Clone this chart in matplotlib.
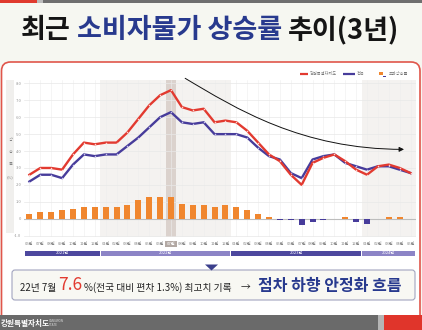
import matplotlib
matplotlib.use('Agg')
import matplotlib.pyplot as plt
import matplotlib.transforms as mtransforms
from matplotlib.patches import Rectangle, FancyBboxPatch, Polygon, FancyArrowPatch
from matplotlib.path import Path
from matplotlib.offsetbox import TextArea, HPacker, AnnotationBbox

plt.rcParams['font.family'] = ['Noto Sans CJK KR', 'DejaVu Sans']

# 데이터
months = ['06월', '07월', '08월', '09월', '10월', '11월', '12월',
          '01월', '02월', '03월', '04월', '05월', '06월', '07월', '08월', '09월', '10월', '11월', '12월',
          '01월', '02월', '03월', '04월', '05월', '06월', '07월', '08월', '09월', '10월', '11월', '12월',
          '01월', '02월', '03월', '04월', '05월']
years = ['2021년', '2022년', '2023년', '2024년']
year_first = [0, 7, 19, 31]
year_last = [6, 18, 30, 35]
gangwon = [2.6, 3.0, 3.0, 2.9, 3.8, 4.5, 4.4, 4.5, 4.5, 5.1, 5.9, 6.7, 7.3, 7.6, 6.6, 6.4, 6.5, 5.7,
           5.8, 5.7, 5.2, 4.5, 3.8, 3.4, 2.6, 2.0, 3.3, 3.6, 3.8, 3.4, 2.9, 2.6, 3.1, 3.2, 3.0, 2.7]
national = [2.2, 2.6, 2.6, 2.4, 3.2, 3.8, 3.7, 3.8, 3.8, 4.3, 4.8, 5.4, 6.0, 6.3, 5.7, 5.6, 5.7, 5.0,
            5.0, 5.0, 4.8, 4.2, 3.7, 3.5, 2.7, 2.4, 3.5, 3.7, 3.8, 3.3, 3.1, 2.9, 3.1, 3.1, 2.9, 2.7]
excess = [0.3, 0.4, 0.4, 0.5, 0.6, 0.7, 0.7, 0.7, 0.7, 0.8, 1.1, 1.3, 1.3, 1.3, 0.9, 0.8, 0.8, 0.7,
          0.8, 0.7, 0.5, 0.3, 0.1, -0.1, -0.1, -0.4, -0.2, -0.1, 0.0, 0.1, -0.2, -0.3, 0.0, 0.1, 0.1, 0.0]
y_ticks = [-1, 0, 1, 2, 3, 4, 5, 6, 7, 8]
y_tick_labels = ['-1.0', '0', '1.0', '2.0', '3.0', '4.0', '5.0', '6.0', '7.0', '8.0']
peak_idx = 13

RED = '#e23a30'
NAVY = '#473c9b'
ORANGE = '#f0862e'
TITLE_BLUE = '#283a8e'

W, H = 422, 330
fig = plt.figure(figsize=(W / 100, H / 100), dpi=100, facecolor='#f6f7f1')

# 배경 장식용 축 (픽셀 좌표)
bg = fig.add_axes([0, 0, 1, 1], zorder=0)
bg.set_xlim(0, W)
bg.set_ylim(H, 0)
bg.axis('off')

bg.add_patch(Rectangle((0, 0), 37, 3, fc='#e03a2e', ec='none'))
bg.add_patch(Rectangle((37, 0), 6, 3, fc='#bcbcbc', ec='none'))
bg.add_patch(Rectangle((43, 0), W - 43, 3, fc='#6f6f6f', ec='none'))

# 흰 패널
bg.add_patch(FancyBboxPatch((1.5, 62), 418.5, 290, boxstyle='round,pad=0,rounding_size=9',
                            fc='white', ec='#e0564b', lw=1.2))

# 제목
title_props = dict(fontsize=19.5, weight='black')
t1 = TextArea('최근', textprops=dict(color='#151515', **title_props))
t2 = TextArea('소비자물가 상승률', textprops=dict(color=TITLE_BLUE, **title_props))
t3 = TextArea('추이(3년)', textprops=dict(color='#151515', **title_props))
title = HPacker(children=[t1, t2, t3], sep=4.5, align='baseline', pad=0)
bg.add_artist(AnnotationBbox(title, (210, 30), xycoords='data', box_alignment=(0.5, 0.5),
                             frameon=False, pad=0))

# y축 라벨 띠
bg.add_patch(Rectangle((6, 80), 8, 153, fc='#f0efed', ec='none'))
for ch, yy in zip(['상', '승', '률', '(%)'], [140, 152, 164, 177]):
    bg.text(10.3, yy, ch, fontsize=3, color='#888888', ha='center', va='center')

# 범례
bg.plot([300, 308], [74.3, 74.3], color=RED, lw=1.6, solid_capstyle='butt')
bg.text(310, 74.3, '강원특별자치도', fontsize=3, color='#777777', va='center')
bg.plot([343, 355], [74.3, 74.3], color=NAVY, lw=1.6, solid_capstyle='butt')
bg.text(357, 74.3, '전국', fontsize=3, color='#777777', va='center')
bg.add_patch(Rectangle((379, 72), 3.6, 3, fc=ORANGE, ec='none'))
bg.add_patch(Rectangle((382.6, 75.6), 3.8, 1.3, fc=NAVY, ec='none'))
bg.text(389, 74.3, '초과상승률', fontsize=3, color='#777777', va='center')

# 차트 축
left, right, top, bottom = 24, 416, 80, 237
ax = fig.add_axes([left / W, 1 - bottom / H, (right - left) / W, (bottom - top) / H], zorder=1)
ax.patch.set_alpha(0)
x = list(range(len(months)))
ax.set_xlim(-0.5, len(months) - 0.5)
ax.set_ylim(-1.08, 8.2)

ax.axvspan(6.5, 18.5, color='#f4f2f0', zorder=0, lw=0)
ax.axvspan(30.5, 35.5, color='#f4f2f0', zorder=0, lw=0)
ax.axvspan(peak_idx - 0.5, peak_idx + 0.5, color='#dbd2cd', zorder=0.2, lw=0)

for yv in y_ticks:
    ax.axhline(yv, color='#bdbdbd' if yv == 0 else '#e8e8e8', lw=0.8 if yv == 0 else 0.5, zorder=0.5)
for xv in x:
    ax.axvline(xv, color='#eeeeee', lw=0.4, zorder=0.4)

bar_colors = [ORANGE if v >= 0 else NAVY for v in excess]
ax.bar(x, excess, width=0.55, color=bar_colors, zorder=2)

ax.plot(x, gangwon, color=RED, lw=1.7, zorder=4, marker='o', markersize=1.1,
        markerfacecolor='#ffd0cc', markeredgecolor='none')
ax.plot(x, national, color=NAVY, lw=1.7, zorder=3, marker='o', markersize=1.1,
        markerfacecolor='#c9c3ee', markeredgecolor='none')

# 하향 추세 화살표
verts = [(14.3, 8.3), (19, 6.5), (25, 4.1), (34.4, 4.1)]
arrow_path = Path(verts, [Path.MOVETO, Path.CURVE4, Path.CURVE4, Path.CURVE4])
ax.add_patch(FancyArrowPatch(path=arrow_path, arrowstyle='-|>', mutation_scale=7,
                             color='#111111', lw=0.7, zorder=5, clip_on=False))

ax.set_yticks(y_ticks)
ax.set_yticklabels(y_tick_labels)
ax.set_xticks(x)
ax.set_xticklabels(months)
ax.tick_params(axis='y', length=0, pad=2, labelsize=3, labelcolor='#999999')
ax.tick_params(axis='x', length=0, pad=3.5, labelsize=3, labelcolor='#888888')
hl = ax.get_xticklabels()[peak_idx]
hl.set_color('white')
hl.set_bbox(dict(boxstyle='square,pad=0.3', fc='#b3a9a4', ec='none'))
for s in ax.spines.values():
    s.set_visible(False)

# 연도 막대
trans = mtransforms.blended_transform_factory(ax.transData, bg.transData)
year_colors = ['#4d489e', '#8c84c6', '#4d489e', '#8c84c6']
for name, a, b, c in zip(years, year_first, year_last, year_colors):
    bg.add_patch(Rectangle((a - 0.45, 250.5), b - a + 0.9, 5.5, fc=c, ec='none', transform=trans))
    bg.text((a + b) / 2, 253.3, name, transform=trans, fontsize=3, color='white',
            ha='center', va='center')

# 하단 요약 상자
bg.add_patch(FancyBboxPatch((12, 270), 403, 30, boxstyle='round,pad=0,rounding_size=3',
                            fc='#f8f8f3', ec='#a2a5bf', lw=0.8))
bg.add_patch(Polygon([(205, 264.5), (218, 264.5), (211.5, 270.5)], closed=True,
                     fc='#3b3f8c', ec='none'))
s1 = TextArea('22년 7월', textprops=dict(fontsize=7, color='#222222'))
s2 = TextArea('7.6', textprops=dict(fontsize=12.5, color=RED))
s3 = TextArea('%(전국 대비 편차 1.3%) 최고치 기록', textprops=dict(fontsize=7, color='#222222'))
s4 = TextArea('→', textprops=dict(fontsize=7, color='#222222'))
s5 = TextArea('점차 하향 안정화 흐름', textprops=dict(fontsize=11.5, weight='bold', color=TITLE_BLUE))
part1 = HPacker(children=[s1, s2, s3], sep=1.5, align='baseline', pad=0)
msg = HPacker(children=[part1, s4, s5], sep=6, align='baseline', pad=0)
bg.add_artist(AnnotationBbox(msg, (211, 285.5), xycoords='data', box_alignment=(0.5, 0.5),
                             frameon=False, pad=0))

# 하단 바
bg.add_patch(Rectangle((0, 315), 378, 15, fc='#6a6a6a', ec='none'))
bg.add_patch(Rectangle((378, 315), 6, 15, fc='#b5b5b5', ec='none'))
bg.add_patch(Rectangle((384, 315), 38, 15, fc='#e0352b', ec='none'))
bg.text(0.5, 323.5, '강원특별자치도', fontsize=5.5, weight='bold', color='white', va='center')
bg.text(49, 323.5, 'GANGWON\nSTATE', fontsize=2.2, color='#dddddd', va='center', linespacing=1.0)

fig.savefig('out.png', dpi=100, facecolor=fig.get_facecolor())
